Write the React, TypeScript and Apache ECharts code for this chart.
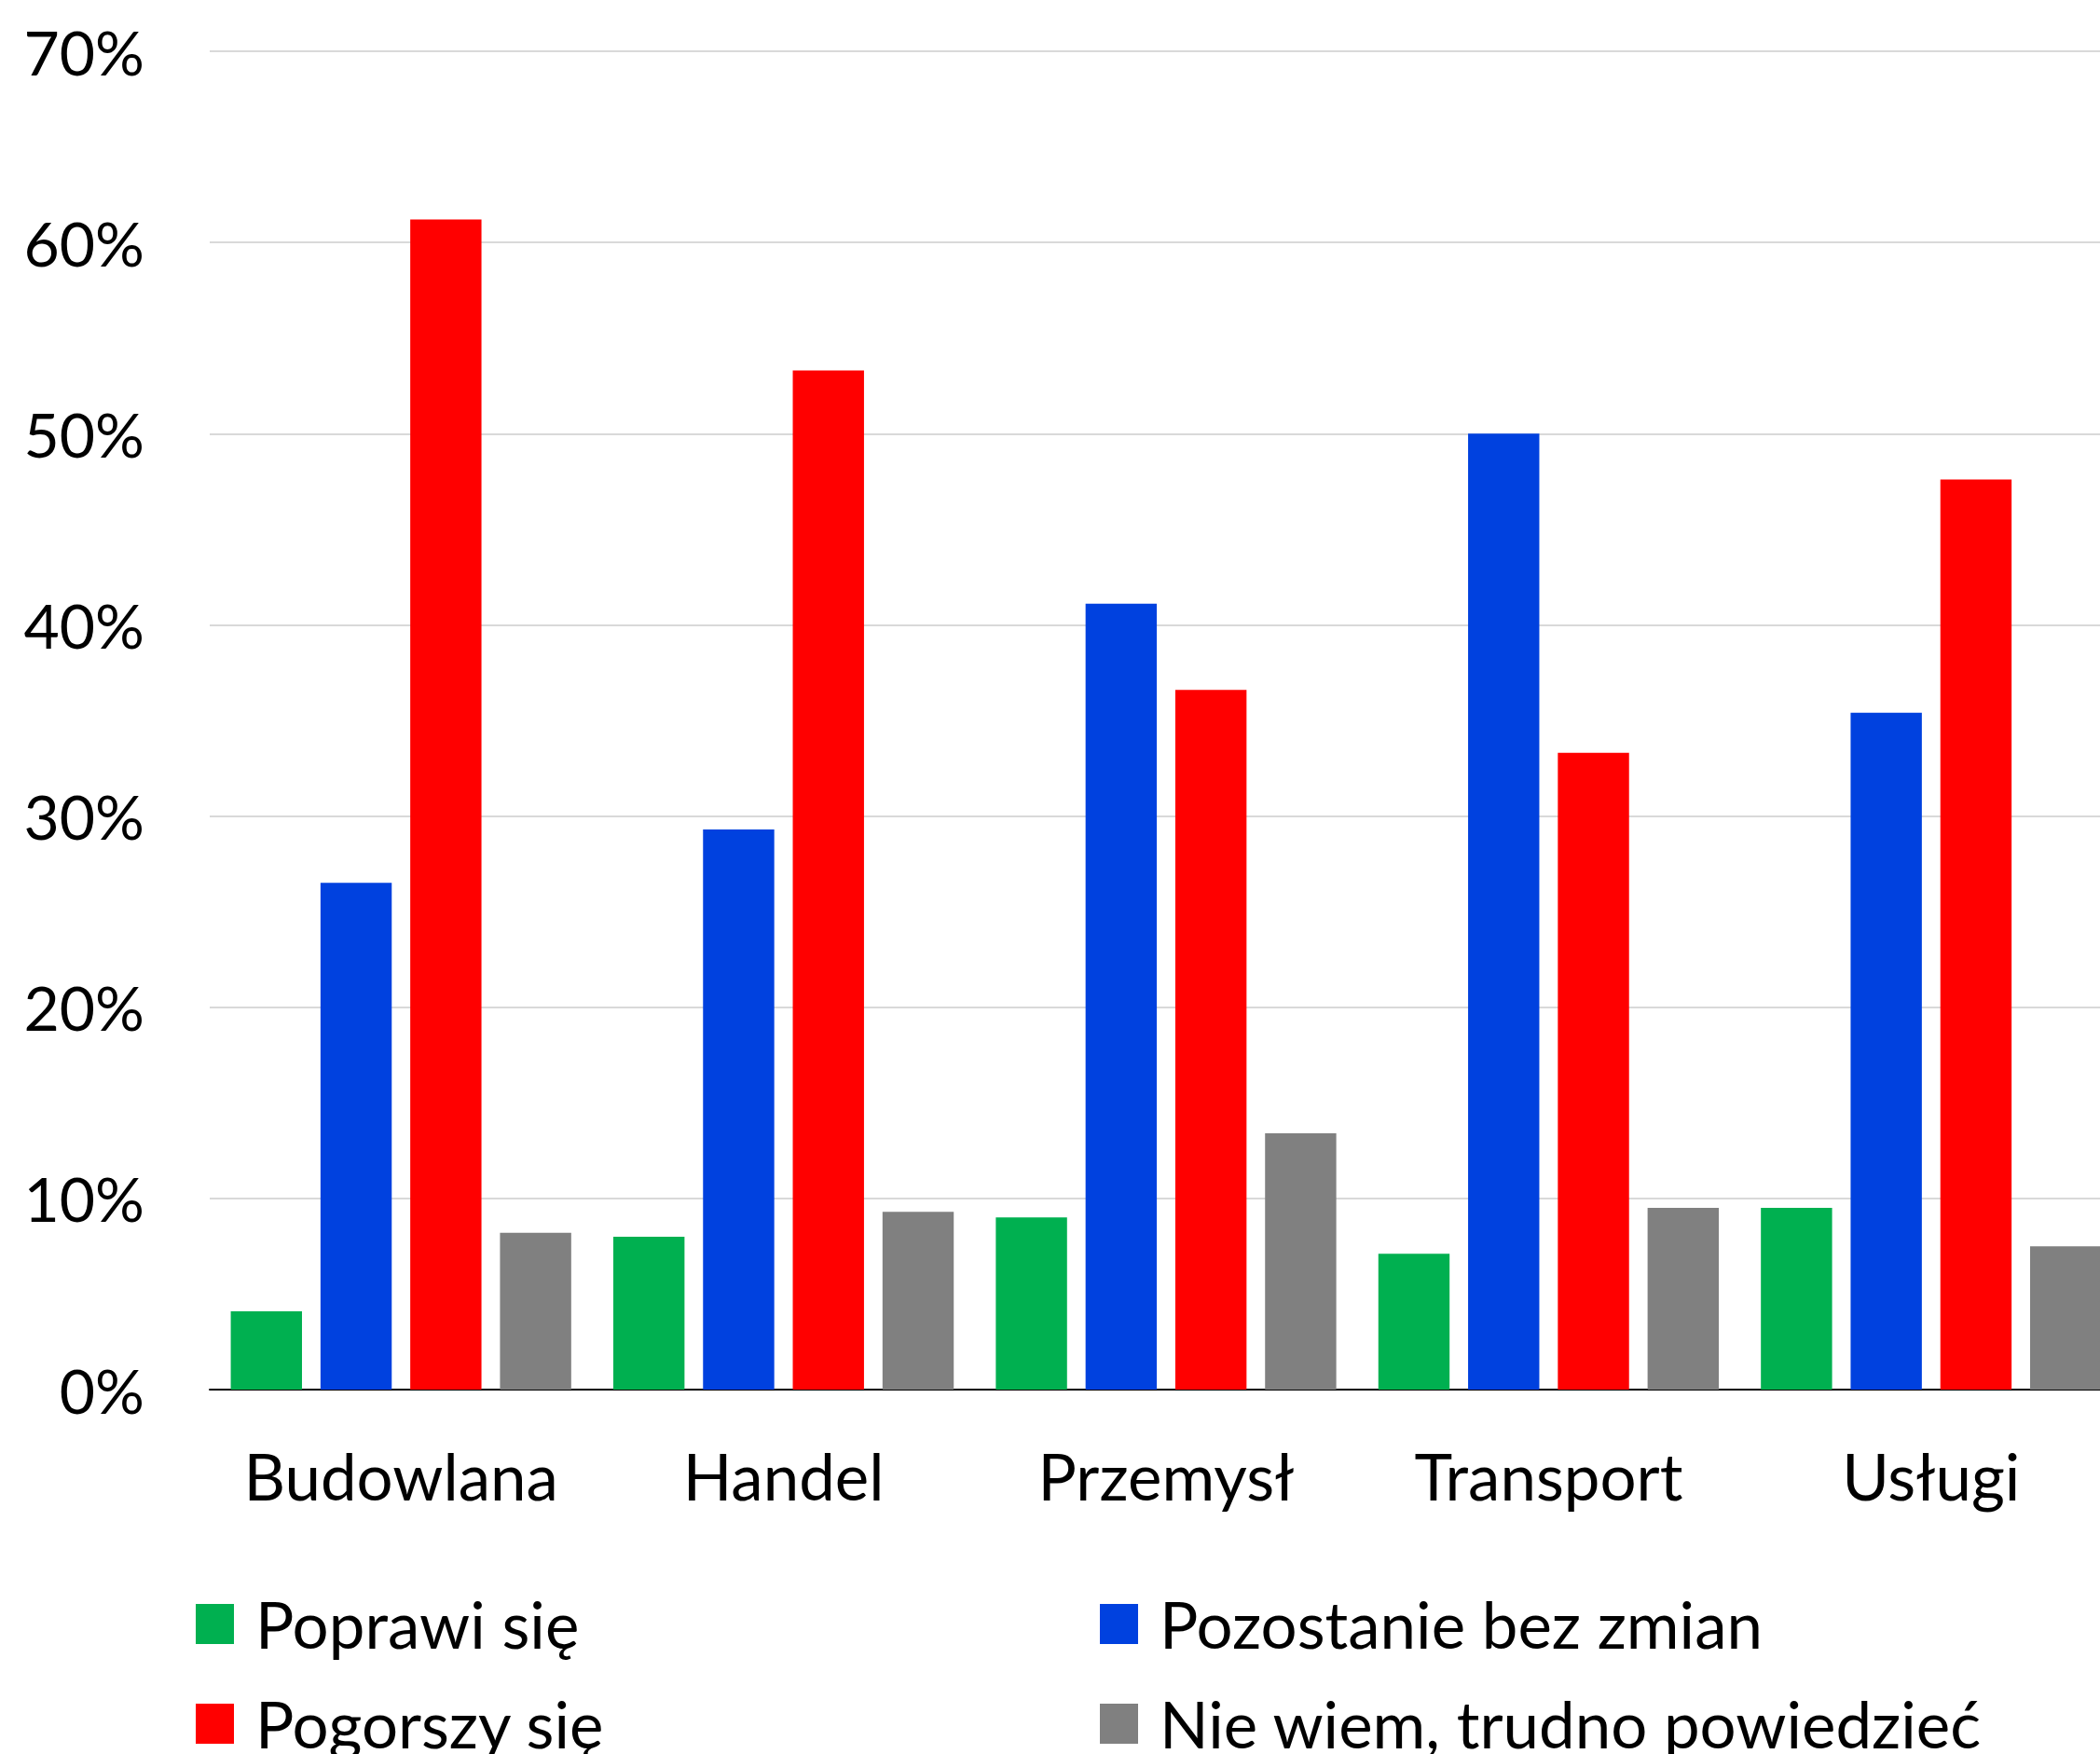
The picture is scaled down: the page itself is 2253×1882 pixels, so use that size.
import React, { useEffect, useRef } from "react";
import * as echarts from "echarts";

const categories = ["Budowlana", "Handel", "Przemysł", "Transport", "Usługi"];
const seriesNames = ["Poprawi się", "Pozostanie bez zmian", "Pogorszy się", "Nie wiem, trudno powiedzieć"];
const poprawi = [4.1, 8.0, 9.0, 7.1, 9.5];
const pozostanie = [26.5, 29.3, 41.1, 50.0, 35.4];
const pogorszy = [61.2, 53.3, 36.6, 33.3, 47.6];
const nieWiem = [8.2, 9.3, 13.4, 9.5, 7.5];
const colors = ["#00B050", "#0041DF", "#FF0000", "#808080"];
const yTicks = { min: 0, max: 70, interval: 10 };

const FONT = "Lato";

export default function App() {
  const ref = useRef<HTMLDivElement>(null);
  useEffect(() => {
    document.body.style.margin = "0";
    document.body.style.overflow = "hidden";
    const chart = echarts.init(ref.current!, null, { renderer: "svg" });
    const values = [poprawi, pozostanie, pogorszy, nieWiem];
    const legendPos = [
      { left: 210, top: 1708 },
      { left: 1180, top: 1708 },
      { left: 210, top: 1815 },
      { left: 1180, top: 1815 },
    ];
    chart.setOption({
      animation: false,
      backgroundColor: "#ffffff",
      textStyle: { fontFamily: FONT },
      grid: { left: 225, right: 0, top: 55, bottom: 391, containLabel: false },
      legend: seriesNames.map((n, i) => ({
        data: [n],
        left: legendPos[i].left,
        top: legendPos[i].top,
        icon: "rect",
        itemWidth: 41,
        itemHeight: 43,
        padding: 0,
        selectedMode: false,
        textStyle: {
          fontFamily: FONT,
          fontSize: 69,
          color: "#000",
          lineHeight: 69,
          padding: [0, 0, 0, 18],
        },
      })),
      xAxis: {
        type: "category",
        data: categories,
        axisTick: { show: false },
        axisLine: { lineStyle: { color: "#000", width: 2 } },
        axisLabel: { color: "#000", fontSize: 69, fontFamily: FONT, margin: 58, interval: 0 },
        splitLine: { show: false },
      },
      yAxis: {
        type: "value",
        min: yTicks.min,
        max: yTicks.max,
        interval: yTicks.interval,
        axisLine: { show: false },
        axisTick: { show: false },
        axisLabel: { color: "#000", fontSize: 66, fontFamily: FONT, margin: 70, formatter: "{value}%" },
        splitLine: { lineStyle: { color: "#D9D9D9", width: 2 } },
      },
      series: seriesNames.map((n, i) => ({
        name: n,
        type: "bar",
        data: values[i],
        itemStyle: { color: colors[i] },
        barGap: "26%",
        barCategoryGap: "11%",
      })),
    });
    return () => chart.dispose();
  }, []);
  return <div ref={ref} style={{ position: "fixed", left: 0, top: 0, width: 2277, height: 1882 }} />;
}
